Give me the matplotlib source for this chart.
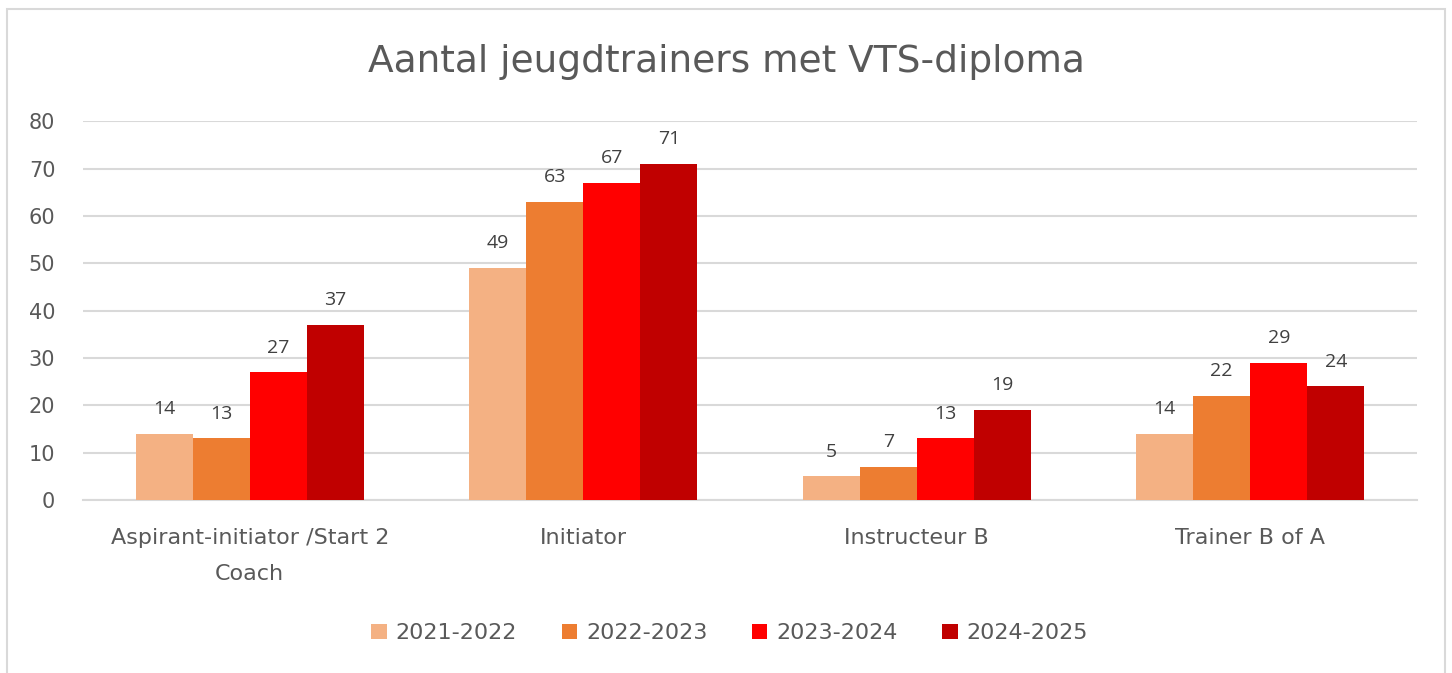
#! /usr/bin/env python3
# Grouped bar chart: jeugdtrainers met VTS-diploma per seizoen

import numpy as np
import matplotlib
matplotlib.use("Agg")
import matplotlib.pyplot as plt
from matplotlib.patches import Rectangle

# data
categories = ["Aspirant-initiator /Start 2\nCoach", "Initiator", "Instructeur B", "Trainer B of A"]
seasons = ["2021-2022", "2022-2023", "2023-2024", "2024-2025"]
v_2021 = [14, 49, 5, 14]
v_2022 = [13, 63, 7, 22]
v_2023 = [27, 67, 13, 29]
v_2024 = [37, 71, 19, 24]
colors = ["#F4B183", "#ED7D31", "#FF0000", "#C00000"]

TXT = "#595959"
GRID = "#D9D9D9"

plt.rcParams['font.family'] = ['DejaVu Sans']

fig = plt.figure(figsize=(14.52, 6.73), dpi=100)
ax = fig.add_axes([0.0572, 0.257, 0.9187, 0.563])

x = np.arange(len(categories))
w = 0.171
series = [v_2021, v_2022, v_2023, v_2024]
for i, vals in enumerate(series):
    bars = ax.bar(x + (i - 1.5) * w, vals, w, color=colors[i], label=seasons[i], zorder=3)
    for b, v in zip(bars, vals):
        ax.text(b.get_x() + b.get_width() / 2, v + 3.3, str(v), ha='center', va='bottom',
                fontsize=14, color="#404040", family=['Open Sans', 'DejaVu Sans'])

ax.set_xlim(-0.5, 3.5)
ax.set_ylim(0, 80)
ax.set_yticks(range(0, 81, 10))
ax.yaxis.grid(True, color=GRID, linewidth=1.5, zorder=0)
for s in ['top', 'right', 'left']:
    ax.spines[s].set_visible(False)
ax.spines['bottom'].set_color(GRID)
ax.spines['bottom'].set_linewidth(1.5)
ax.tick_params(axis='both', length=0, labelsize=15, labelcolor=TXT)
ax.tick_params(axis='y', pad=20)
ax.tick_params(axis='x', labelsize=16, pad=20)
ax.set_xticks(x)
ax.set_xticklabels(categories, linespacing=2.0)

fig.text(0.5, 0.908, "Aantal jeugdtrainers met VTS-diploma", ha='center', va='center',
         fontsize=27, color=TXT)

fig.legend(loc='center', bbox_to_anchor=(0.5025, 0.059), ncol=4, frameon=False,
           fontsize=16, labelcolor=TXT, handlelength=0.7, handleheight=0.7,
           handletextpad=0.4, columnspacing=2.0)

# outer frame
fig.patches.append(Rectangle((7 / 1452, -0.1), 1438 / 1452, 1 - 9 / 673 + 0.1,
                             transform=fig.transFigure, fill=False,
                             edgecolor=GRID, linewidth=1.5))

plt.savefig("out.png", dpi=100)
